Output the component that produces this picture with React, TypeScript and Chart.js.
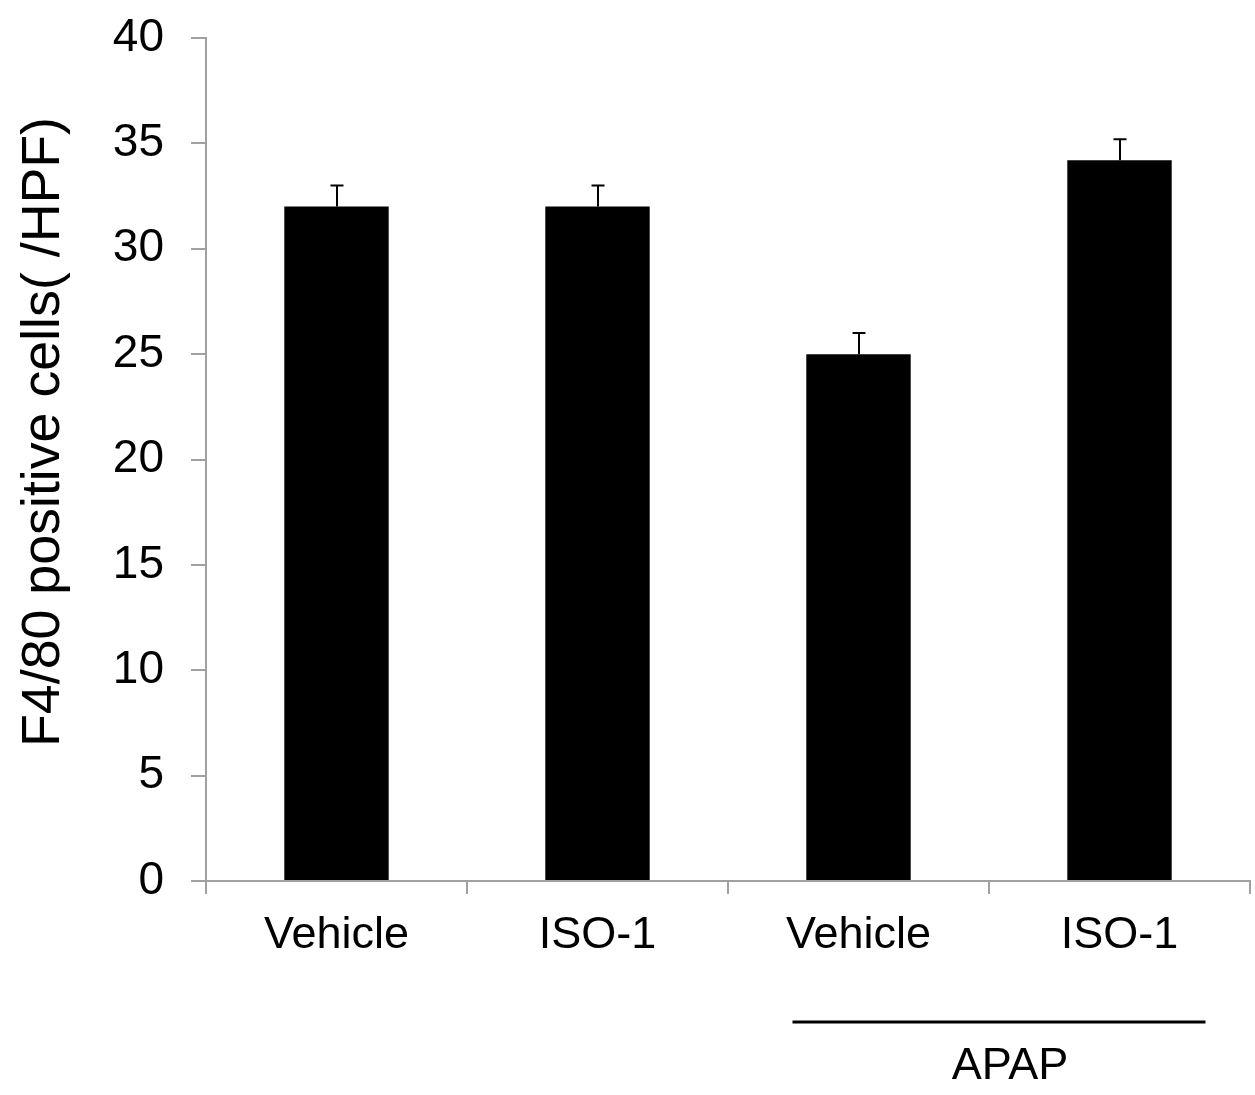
import React, { useEffect, useRef } from "react";
import { Chart, registerables } from "chart.js";

Chart.register(...registerables);

// Group labels along the x axis
const categories = ["Vehicle", "ISO-1", "Vehicle", "ISO-1"];
// Mean F4/80 positive cell counts per high-power field
const meanValues = [32, 32, 25, 34.2];
// Upper error (SEM) for each bar
const errorValues = [1, 1, 1, 1];
// Value axis range and step
const yMin = 0;
const yMax = 40;
const yStep = 5;
const yTitle = "F4/80 positive cells( /HPF)";
// Treatment bracket under the last two groups
const bracketLabel = "APAP";
const bracketFirst = 2;
const bracketLast = 3;

const FONT = "'Liberation Sans', Arial, Helvetica, sans-serif";
const AXIS_GRAY = "#a0a0a0";

const errorBarPlugin = {
  id: "errorBars",
  afterDatasetsDraw(chart: any) {
    const { ctx } = chart;
    const y = chart.scales.y;
    const meta = chart.getDatasetMeta(0);
    ctx.save();
    ctx.strokeStyle = "#000";
    ctx.lineWidth = 2;
    meta.data.forEach((bar: any, i: number) => {
      const top = y.getPixelForValue(meanValues[i] + errorValues[i]);
      const x = Math.round(bar.x);
      ctx.beginPath();
      ctx.moveTo(x, bar.y);
      ctx.lineTo(x, top);
      ctx.moveTo(x - 6.5, top);
      ctx.lineTo(x + 6.5, top);
      ctx.stroke();
    });
    ctx.restore();
  },
};

const annotationPlugin = {
  id: "annotations",
  afterDraw(chart: any) {
    const { ctx, chartArea } = chart;
    const x = chart.scales.x;

    // Rotated axis title
    ctx.save();
    ctx.translate(59, chartArea.top + 394);
    ctx.rotate(-Math.PI / 2);
    ctx.font = `54px ${FONT}`;
    const w = ctx.measureText(yTitle).width;
    ctx.scale(630 / w, 1);
    ctx.fillStyle = "#000";
    ctx.textAlign = "center";
    ctx.textBaseline = "alphabetic";
    ctx.fillText(yTitle, 0, 0);
    ctx.restore();

    // APAP bracket line and label
    const left = x.getPixelForValue(bracketFirst) - 66;
    const right = x.getPixelForValue(bracketLast) + 86;
    const lineY = chartArea.bottom + 141;
    ctx.save();
    ctx.strokeStyle = "#000";
    ctx.lineWidth = 3;
    ctx.beginPath();
    ctx.moveTo(left, lineY);
    ctx.lineTo(right, lineY);
    ctx.stroke();
    ctx.font = `45px ${FONT}`;
    ctx.fillStyle = "#000";
    ctx.textAlign = "center";
    ctx.textBaseline = "alphabetic";
    ctx.fillText(bracketLabel, (left + right) / 2 + 11, lineY + 57);
    ctx.restore();
  },
};

export default function App() {
  const canvasRef = useRef<HTMLCanvasElement | null>(null);

  useEffect(() => {
    document.body.style.margin = "0";
    const canvas = canvasRef.current;
    if (!canvas) return;
    const chart = new Chart(canvas, {
      type: "bar",
      data: {
        labels: categories,
        datasets: [
          {
            data: meanValues,
            backgroundColor: "#000",
            borderWidth: 0,
            categoryPercentage: 1,
            barPercentage: 0.4,
          },
        ],
      },
      options: {
        responsive: false,
        animation: false,
        devicePixelRatio: 1,
        layout: { padding: { top: 38, right: 5, left: 0, bottom: 0 } },
        plugins: {
          legend: { display: false },
          tooltip: { enabled: false },
        },
        scales: {
          x: {
            offset: true,
            grid: {
              offset: true,
              drawOnChartArea: false,
              drawTicks: true,
              tickLength: 13,
              color: AXIS_GRAY,
              lineWidth: 2,
            },
            border: { display: true, color: AXIS_GRAY, width: 2 },
            ticks: {
              color: "#000",
              padding: 15,
              maxRotation: 0,
              font: { family: FONT, size: 45 },
            },
            afterFit(scale: any) {
              scale.height = 214;
            },
          },
          y: {
            min: yMin,
            max: yMax,
            grid: {
              drawOnChartArea: false,
              drawTicks: true,
              tickLength: 15,
              color: AXIS_GRAY,
              lineWidth: 2,
            },
            border: { display: true, color: AXIS_GRAY, width: 2 },
            ticks: {
              stepSize: yStep,
              color: "#000",
              padding: 27,
              font: { family: FONT, size: 46 },
            },
            afterFit(scale: any) {
              scale.width = 206;
              scale.paddingTop = 0;
              scale.paddingBottom = 0;
            },
          },
        },
      },
      plugins: [errorBarPlugin, annotationPlugin],
    });
    return () => chart.destroy();
  }, []);

  return (
    <div style={{ position: "absolute", left: 0, top: 0, width: 1255, height: 1095, background: "#fff" }}>
      <canvas ref={canvasRef} width={1255} height={1095} style={{ display: "block" }} />
    </div>
  );
}
